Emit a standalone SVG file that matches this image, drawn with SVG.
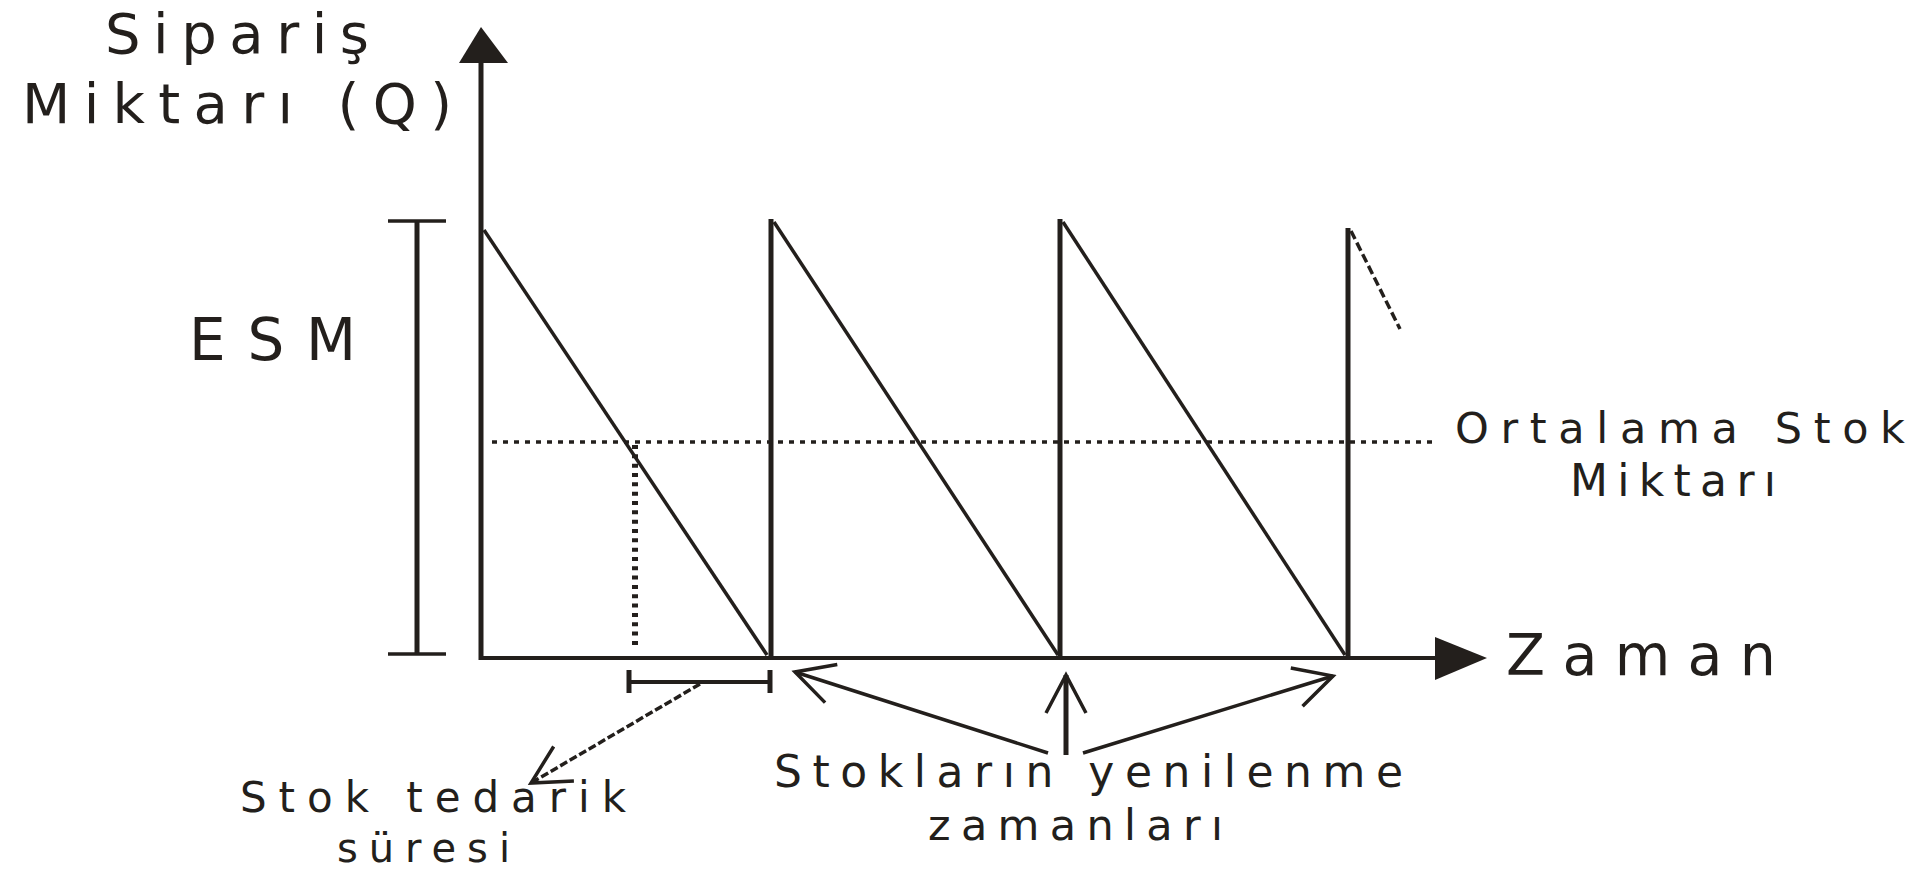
<svg xmlns="http://www.w3.org/2000/svg" width="1921" height="872" viewBox="0 0 1921 872">
<style>
.ln{stroke:#231f1c;fill:none;stroke-linecap:butt}
.txt{font-family:"DejaVu Sans","Liberation Sans",Arial,sans-serif;fill:#231f1c}
.big{font-size:56px}
.mid{font-size:44px}
</style>
<defs>
<marker id="openArrow" markerUnits="userSpaceOnUse" markerWidth="60" markerHeight="60" viewBox="-50 -30 60 60" refX="0" refY="0" orient="auto">
<path d="M -38,-20 L 0,0 L -38,20" fill="none" stroke="#231f1c" stroke-width="3.5"/>
</marker>
</defs>
<rect width="1921" height="872" fill="#ffffff"/>

<g id="axes">
<line class="ln" x1="481" y1="660" x2="481" y2="58" stroke-width="5"/>
<polygon points="481,27 459,63 508,63" fill="#231f1c"/>
<line class="ln" x1="479" y1="658" x2="1440" y2="658" stroke-width="4"/>
<polygon points="1435,637 1487,658 1435,680" fill="#231f1c"/>
</g>

<g id="esm-bracket">
<line class="ln" x1="417" y1="221" x2="417" y2="654" stroke-width="5"/>
<line class="ln" x1="388" y1="221" x2="446" y2="221" stroke-width="3.5"/>
<line class="ln" x1="388" y1="654" x2="446" y2="654" stroke-width="3.5"/>
</g>

<g id="sawtooth">
<line class="ln" x1="484" y1="230" x2="767" y2="655" stroke-width="3.5"/>
<line class="ln" x1="771" y1="219" x2="771" y2="658" stroke-width="5"/>
<line class="ln" x1="774" y1="222" x2="1058" y2="655" stroke-width="3.5"/>
<line class="ln" x1="1060" y1="219" x2="1060" y2="658" stroke-width="5"/>
<line class="ln" x1="1063" y1="222" x2="1345" y2="655" stroke-width="3.5"/>
<line class="ln" x1="1348" y1="228" x2="1348" y2="658" stroke-width="5"/>
<line class="ln" x1="1351" y1="231" x2="1400" y2="329" stroke-width="3.5" stroke-dasharray="9 4"/>
</g>

<g id="average-line">
<line class="ln" x1="492" y1="442" x2="1432" y2="442" stroke-width="3.5" stroke-dasharray="5 6"/>
<line class="ln" x1="635" y1="445" x2="635" y2="647" stroke-width="6" stroke-dasharray="4 5.33"/>
</g>

<g id="lead-time-bracket">
<line class="ln" x1="629" y1="682" x2="770" y2="682" stroke-width="4"/>
<line class="ln" x1="629" y1="670" x2="629" y2="693" stroke-width="5"/>
<line class="ln" x1="770" y1="670" x2="770" y2="693" stroke-width="5"/>
</g>

<g id="connectors">
<line class="ln" x1="700" y1="684" x2="531" y2="783" stroke-width="3.5" stroke-dasharray="8 3" marker-end="url(#openArrow)"/>
<line class="ln" x1="1048" y1="753" x2="795" y2="672" stroke-width="3.5" marker-end="url(#openArrow)"/>
<line class="ln" x1="1066" y1="755" x2="1066" y2="675" stroke-width="5" marker-end="url(#openArrow)"/>
<line class="ln" x1="1083" y1="753" x2="1333" y2="676" stroke-width="3.5" marker-end="url(#openArrow)"/>
</g>

<g id="label-y-axis">
<text class="txt big" x="105" y="53" textLength="264" lengthAdjust="spacing">Sipariş</text>
<text class="txt big" x="22" y="123" textLength="430" lengthAdjust="spacing">Miktarı (Q)</text>
</g>
<g id="label-esm">
<text class="txt" font-size="58" x="189" y="360" textLength="167" lengthAdjust="spacing">ESM</text>
</g>
<g id="label-x-axis">
<text class="txt" font-size="57" x="1506" y="675" textLength="270" lengthAdjust="spacing">Zaman</text>
</g>
<g id="label-average">
<text class="txt" font-size="43" x="1455" y="443" textLength="450" lengthAdjust="spacing">Ortalama Stok</text>
<text class="txt mid" x="1570" y="496" textLength="206" lengthAdjust="spacing">Miktarı</text>
</g>
<g id="label-renewal">
<text class="txt mid" x="774" y="787" textLength="629" lengthAdjust="spacing">Stokların yenilenme</text>
<text class="txt" font-size="43" x="928" y="840" textLength="295" lengthAdjust="spacing">zamanları</text>
</g>
<g id="label-lead-time">
<text class="txt" font-size="42" x="240" y="812" textLength="386" lengthAdjust="spacing">Stok tedarik</text>
<text class="txt" font-size="40" x="337" y="862" textLength="173" lengthAdjust="spacing">süresi</text>
</g>
</svg>
